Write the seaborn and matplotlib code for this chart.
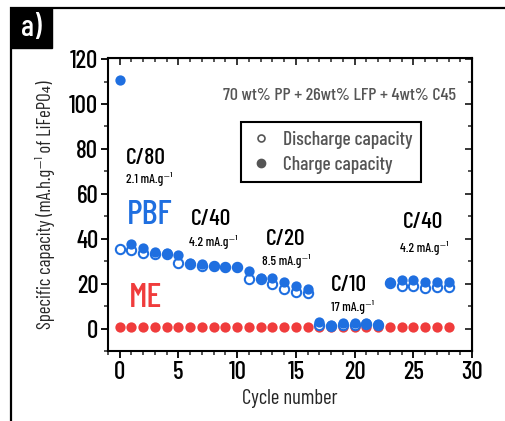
import matplotlib
matplotlib.use("Agg")
import matplotlib.pyplot as plt
import seaborn as sns
import pandas as pd
from matplotlib.patches import Rectangle
from matplotlib.ticker import MultipleLocator
from matplotlib.lines import Line2D

# === Data ===
cycles = list(range(29))
pbf_charge = [110.5, 37.5, 35.7, 34.0, 33.5, 32.7, 29.0, 28.8, 28.0, 27.5,
              27.6, 25.8, 22.5, 22.5, 20.9, 18.8, 17.6, 2.8, 1.5, 2.3,
              2.3, 2.5, 2.2, 20.6, 21.8, 21.6, 20.6, 20.6, 20.9]
pbf_discharge = [35.5, 35.0, 33.5, 33.2, 33.0, 29.2, 28.7, 28.0, 27.7, 27.3,
                 27.4, 22.0, 22.0, 19.8, 17.6, 16.1, 15.7, 1.8, 1.2, 1.7,
                 1.8, 1.9, 1.8, 20.5, 19.1, 19.1, 18.0, 18.7, 18.7]
me_charge = [0.5, 0.5, 0.5, 0.5, 0.5, 0.5, 0.5, 0.5, 0.5, 0.5,
             0.5, 0.5, 0.5, 0.5, 0.5, 0.5, 0.5, 0.5, 0.5, 0.5,
             0.5, 0.5, 0.5, 0.5, 0.5, 0.5, 0.5, 0.5, 0.5]

rate_labels = ["C/80", "C/40", "C/20", "C/10", "C/40"]
rate_currents = ["2.1 mA.g⁻¹", "4.2 mA.g⁻¹", "8.5 mA.g⁻¹", "17 mA.g⁻¹", "4.2 mA.g⁻¹"]
rate_x = [2.2, 7.8, 14.1, 19.5, 25.8]
rate_y = [75.8, 49.0, 39.7, 19.6, 47.3]
current_x = [2.5, 8.0, 14.2, 19.8, 25.9]
current_y = [66.5, 38.4, 29.9, 9.4, 36.0]

BLUE = "#1f6fe0"
RED = "#f03c3c"
GRAY = "#555555"
FONT = ["Barlow Condensed", "DejaVu Sans"]

sns.set_style("ticks")
plt.rcParams["font.family"] = FONT
plt.rcParams["font.weight"] = 500

df = pd.DataFrame({"cycle": cycles, "pbf_c": pbf_charge,
                   "pbf_d": pbf_discharge, "me": me_charge})

fig = plt.figure(figsize=(5.05, 4.21), dpi=100)
ax = fig.add_axes([108 / 505, 1 - 351 / 421, (472 - 108) / 505, (351 - 58) / 421])

# ME (charge and discharge overlap)
sns.scatterplot(data=df, x="cycle", y="me", ax=ax, color=RED, s=55,
                edgecolor=RED, linewidth=0, zorder=3)
# PBF discharge (open) then charge (filled) on top
sns.scatterplot(data=df, x="cycle", y="pbf_d", ax=ax, facecolor="white",
                edgecolor=BLUE, linewidth=1.5, s=45, zorder=4)
sns.scatterplot(data=df, x="cycle", y="pbf_c", ax=ax, color=BLUE, s=55,
                edgecolor=BLUE, linewidth=0, zorder=5)

ax.set_xlim(-1, 30)
ax.set_ylim(-10, 120.5)
ax.xaxis.set_major_locator(MultipleLocator(5))
ax.xaxis.set_minor_locator(MultipleLocator(1))
ax.yaxis.set_major_locator(MultipleLocator(20))
ax.yaxis.set_minor_locator(MultipleLocator(10))
ax.tick_params(which="major", direction="out", length=5, width=1.3,
               labelsize=18, pad=2, colors="black")
ax.tick_params(which="minor", direction="out", length=3, width=1.1)
for sp in ax.spines.values():
    sp.set_linewidth(1.5)
    sp.set_color("black")

top = ax.secondary_xaxis("top")
top.xaxis.set_major_locator(MultipleLocator(5))
top.xaxis.set_minor_locator(MultipleLocator(1))
top.tick_params(which="major", direction="in", length=5, width=1.3, labeltop=False)
top.tick_params(which="minor", direction="in", length=3, width=1.1)
right = ax.secondary_yaxis("right")
right.yaxis.set_major_locator(MultipleLocator(20))
right.yaxis.set_minor_locator(MultipleLocator(10))
right.tick_params(which="major", direction="in", length=5, width=1.3, labelright=False)
right.tick_params(which="minor", direction="in", length=3, width=1.1)

ax.set_xlabel("Cycle number", fontsize=15, labelpad=4)
ax.set_ylabel("Specific capacity (mA.h.g⁻¹ of LiFePO₄)", fontsize=13.5, labelpad=10)

# annotations
ax.text(18.7, 104, "70 wt% PP + 26wt% LFP + 4wt% C45", color=GRAY,
        fontsize=13, ha="center", va="center")
for lx, ly, lab in zip(rate_x, rate_y, rate_labels):
    ax.text(lx, ly, lab, fontsize=17, ha="center", va="center", color="black")
for cx, cy, cur in zip(current_x, current_y, rate_currents):
    ax.text(cx, cy, cur, fontsize=9.5, ha="center", va="center", color="black")
ax.text(2.56, 50.4, "PBF", fontsize=25, color=BLUE, ha="center", va="center")
ax.text(2.2, 13.5, "ME", fontsize=25, color=RED, ha="center", va="center")

handles = [
    Line2D([], [], marker="o", ls="none", markerfacecolor="white",
           markeredgecolor=GRAY, markersize=5, markeredgewidth=1.2),
    Line2D([], [], marker="o", ls="none", markerfacecolor=GRAY,
           markeredgecolor=GRAY, markersize=6),
]
leg = ax.legend(handles, ["Discharge capacity", "Charge capacity"],
                loc="upper left", bbox_to_anchor=(241 / 505, 1 - 122 / 421),
                bbox_transform=fig.transFigure, borderaxespad=0,
                fancybox=False, framealpha=1, edgecolor="black",
                fontsize=14, handletextpad=0.5, handlelength=1.2,
                labelspacing=0.35, borderpad=0.45)
leg.get_frame().set_linewidth(1.5)
for t in leg.get_texts():
    t.set_color(GRAY)

# outer panel frame and "a)" tag
fig.patches.append(Rectangle((11 / 505, -0.1), 1.2, 1 - 8 / 421 + 0.1,
                             transform=fig.transFigure, fill=False,
                             edgecolor="black", linewidth=1.6))
fig.patches.append(Rectangle((11 / 505, 1 - 48 / 421), 41 / 505, 40 / 421,
                             transform=fig.transFigure, facecolor="black",
                             edgecolor="black"))
fig.text(31 / 505, 1 - 28 / 421, "a)", color="white", fontsize=22,
         ha="center", va="center")

fig.savefig("out.png", dpi=100)
